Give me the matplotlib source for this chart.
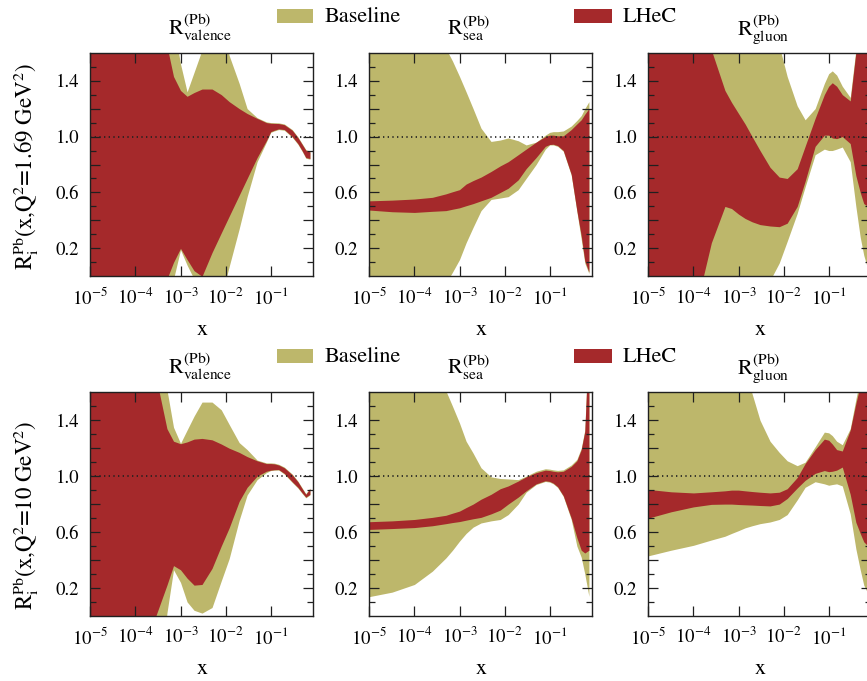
import matplotlib
matplotlib.use("Agg")
import matplotlib.pyplot as plt
from matplotlib import patches
from matplotlib.ticker import FixedLocator, NullLocator

plt.rcParams["font.family"] = "STIXGeneral"
plt.rcParams["mathtext.fontset"] = "stix"

# x nodes shared by every band
X_NODES = [1e-5, 3.2e-5, 1e-4, 2.5e-4, 5e-4, 7e-4, 1e-3, 1.4e-3, 2e-3, 3e-3,
           5e-3, 8e-3, 0.012, 0.02, 0.03, 0.05, 0.08, 0.1, 0.12, 0.15,
           0.2, 0.3, 0.4, 0.5, 0.6, 0.74]

# Q^2 = 1.69 GeV^2 (top row)
VAL_169_BASE_HI = [2.5, 2.5, 2.5, 2.5, 2.2, 1.8, 1.52, 1.32, 1.46, 1.62, 2.0, 1.85, 1.58,
                   1.38, 1.2, 1.135, 1.105, 1.10, 1.099, 1.098, 1.09, 1.05, 0.998, 0.948, 0.907, 0.895]
VAL_169_BASE_LO = [-0.5, -0.5, -0.5, -0.5, -0.3, -0.02, 0.19, 0.08, -0.02, -0.3, -0.3, -0.15, 0.07,
                   0.34, 0.57, 0.82, 0.96, 1.03, 1.04, 1.05, 1.045, 0.995, 0.945, 0.893, 0.845, 0.838]
VAL_169_LHEC_HI = [2.0, 2.0, 2.0, 2.0, 1.65, 1.43, 1.33, 1.288, 1.315, 1.34, 1.34, 1.30, 1.25,
                   1.20, 1.165, 1.13, 1.10, 1.095, 1.094, 1.093, 1.085, 1.045, 0.993, 0.943, 0.902, 0.89]
VAL_169_LHEC_LO = [-0.5, -0.5, -0.5, -0.5, -0.02, 0.10, 0.2, 0.12, 0.04, 0.0, 0.17, 0.31, 0.43,
                   0.58, 0.70, 0.85, 0.97, 1.035, 1.045, 1.055, 1.05, 1.0, 0.95, 0.898, 0.85, 0.843]

SEA_169_BASE_HI = [2.5, 2.2, 2.0, 1.8, 1.63, 1.54, 1.43, 1.32, 1.2, 1.06, 0.965, 0.975, 0.99,
                   0.97, 0.94, 0.96, 1.01, 1.03, 1.035, 1.035, 1.04, 1.075, 1.115, 1.15, 1.2, 1.25]
SEA_169_BASE_LO = [-1.0, -0.8, -0.6, -0.3, -0.05, 0.03, 0.12, 0.24, 0.35, 0.47, 0.55, 0.56, 0.57,
                   0.62, 0.7, 0.8, 0.91, 0.94, 0.94, 0.93, 0.895, 0.725, 0.465, 0.265, 0.095, 0.02]
SEA_169_LHEC_HI = [0.54, 0.545, 0.553, 0.565, 0.59, 0.605, 0.62, 0.66, 0.685, 0.71, 0.75, 0.79, 0.82,
                   0.87, 0.91, 0.96, 1.0, 1.01, 1.01, 1.005, 1.005, 1.05, 1.09, 1.12, 1.16, 1.2]
SEA_169_LHEC_LO = [0.474, 0.462, 0.457, 0.465, 0.47, 0.48, 0.49, 0.505, 0.52, 0.54, 0.565, 0.6, 0.63,
                   0.69, 0.77, 0.85, 0.93, 0.943, 0.945, 0.935, 0.9, 0.73, 0.47, 0.29, 0.11, 0.03]

GLU_169_BASE_HI = [3.0, 3.0, 3.0, 2.5, 2.2, 2.0, 1.9, 1.8, 1.75, 1.7, 1.66, 1.65, 1.43,
                   1.22, 1.12, 1.2, 1.38, 1.45, 1.47, 1.44, 1.36, 1.28, 1.62, 1.95, 2.3, 2.6]
GLU_169_BASE_LO = [-1.0, -1.0, -1.0, -0.8, -0.6, -0.5, -0.4, -0.3, -0.2, -0.1, -0.03, 0.095, 0.25,
                   0.45, 0.64, 0.87, 0.91, 0.9, 0.9, 0.91, 0.925, 0.82, 0.5, 0.28, 0.15, 0.05]
GLU_169_LHEC_HI = [2.0, 2.0, 2.0, 1.62, 1.33, 1.245, 1.165, 1.09, 1.0, 0.9, 0.78, 0.71, 0.70,
                   0.77, 0.93, 1.13, 1.3, 1.36, 1.385, 1.36, 1.3, 1.255, 1.6, 1.9, 2.2, 2.5]
GLU_169_LHEC_LO = [-1.0, -1.0, -0.3, 0.24, 0.5, 0.485, 0.445, 0.414, 0.39, 0.37, 0.36, 0.355, 0.38,
                   0.5, 0.68, 0.93, 1.01, 1.01, 0.99, 0.985, 1.0, 0.95, 0.72, 0.6, 0.52, 0.5]

# Q^2 = 10 GeV^2 (bottom row)
VAL_10_BASE_HI = [2.5, 2.5, 2.5, 2.5, 1.62, 1.35, 1.235, 1.33, 1.43, 1.53, 1.53, 1.475, 1.37,
                  1.24, 1.19, 1.115, 1.095, 1.095, 1.093, 1.085, 1.065, 1.015, 0.965, 0.915, 0.875, 0.915]
VAL_10_BASE_LO = [-1.0, -1.0, -1.0, -1.0, 0.02, 0.33, 0.24, 0.1, 0.04, 0.02, 0.06, 0.25, 0.41,
                  0.685, 0.865, 0.975, 1.025, 1.04, 1.043, 1.044, 1.015, 0.955, 0.915, 0.875, 0.845, 0.865]
VAL_10_LHEC_HI = [2.0, 2.0, 2.0, 1.8, 1.34, 1.25, 1.232, 1.245, 1.265, 1.27, 1.26, 1.23, 1.2,
                  1.17, 1.14, 1.11, 1.09, 1.09, 1.088, 1.08, 1.06, 1.01, 0.96, 0.91, 0.87, 0.91]
VAL_10_LHEC_LO = [-1.0, -1.0, -1.0, -0.05, 0.22, 0.36, 0.33, 0.27, 0.22, 0.225, 0.34, 0.50, 0.63,
                  0.82, 0.92, 1.0, 1.035, 1.043, 1.046, 1.047, 1.02, 0.96, 0.92, 0.88, 0.85, 0.87]

SEA_10_BASE_HI = [2.5, 2.2, 2.0, 1.8, 1.61, 1.5, 1.38, 1.25, 1.165, 1.06, 0.995, 0.983, 0.98,
                  0.975, 1.0, 1.035, 1.053, 1.05, 1.045, 1.041, 1.045, 1.08, 1.12, 1.2, 1.33, 2.05]
SEA_10_BASE_LO = [0.138, 0.17, 0.225, 0.32, 0.415, 0.47, 0.535, 0.59, 0.635, 0.665, 0.68, 0.69, 0.725,
                  0.8, 0.885, 0.94, 0.962, 0.957, 0.945, 0.919, 0.855, 0.69, 0.5, 0.42, 0.3, 0.14]
SEA_10_LHEC_HI = [0.674, 0.68, 0.69, 0.705, 0.72, 0.735, 0.75, 0.775, 0.8, 0.835, 0.87, 0.91, 0.93,
                  0.965, 0.995, 1.025, 1.043, 1.04, 1.035, 1.031, 1.035, 1.07, 1.11, 1.19, 1.32, 2.0]
SEA_10_LHEC_LO = [0.619, 0.625, 0.632, 0.645, 0.66, 0.668, 0.675, 0.685, 0.695, 0.705, 0.73, 0.757, 0.8,
                  0.85, 0.895, 0.945, 0.967, 0.962, 0.95, 0.924, 0.86, 0.7, 0.56, 0.47, 0.45, 0.47]

GLU_10_BASE_HI = [3.0, 3.0, 2.8, 2.5, 2.3, 2.2, 2.0, 1.75, 1.59, 1.4, 1.25, 1.17, 1.11,
                  1.075, 1.1, 1.21, 1.315, 1.31, 1.29, 1.25, 1.225, 1.34, 1.55, 1.7, 1.85, 2.1]
GLU_10_BASE_LO = [0.43, 0.47, 0.505, 0.543, 0.57, 0.59, 0.61, 0.63, 0.645, 0.66, 0.672, 0.69, 0.725,
                  0.83, 0.92, 0.96, 0.945, 0.935, 0.94, 0.945, 0.93, 0.73, 0.48, 0.33, 0.22, 0.16]
GLU_10_LHEC_HI = [0.905, 0.888, 0.88, 0.888, 0.895, 0.9, 0.9, 0.895, 0.89, 0.885, 0.88, 0.885, 0.91,
                  0.99, 1.09, 1.19, 1.265, 1.257, 1.23, 1.19, 1.18, 1.33, 1.52, 1.65, 1.8, 2.0]
GLU_10_LHEC_LO = [0.70, 0.745, 0.78, 0.798, 0.8, 0.8, 0.797, 0.795, 0.793, 0.79, 0.787, 0.8, 0.84,
                  0.915, 0.97, 1.02, 1.04, 1.032, 1.035, 1.043, 1.065, 0.87, 0.67, 0.59, 0.53, 0.5]

PARTONS = ["valence", "sea", "gluon"]
Q2_LABELS = ["1.69", "10"]
LEGEND_LABELS = ["Baseline", "LHeC"]

X_TICKS = [1e-5, 1e-4, 1e-3, 1e-2, 1e-1]
X_TICK_LABELS = [r"$10^{-5}$", r"$10^{-4}$", r"$10^{-3}$", r"$10^{-2}$", r"$10^{-1}$"]
Y_TICKS = [0.2, 0.4, 0.6, 0.8, 1.0, 1.2, 1.4]
Y_TICK_LABELS = ["0.2", "", "0.6", "", "1.0", "", "1.4"]
Y_MINOR = [0.1, 0.3, 0.5, 0.7, 0.9, 1.1, 1.3, 1.5]

OLIVE = "#bdb76b"
RED = "#a5292b"
BLACK = "#202020"

ROWS = [
    [(VAL_169_BASE_HI, VAL_169_BASE_LO, VAL_169_LHEC_HI, VAL_169_LHEC_LO),
     (SEA_169_BASE_HI, SEA_169_BASE_LO, SEA_169_LHEC_HI, SEA_169_LHEC_LO),
     (GLU_169_BASE_HI, GLU_169_BASE_LO, GLU_169_LHEC_HI, GLU_169_LHEC_LO)],
    [(VAL_10_BASE_HI, VAL_10_BASE_LO, VAL_10_LHEC_HI, VAL_10_LHEC_LO),
     (SEA_10_BASE_HI, SEA_10_BASE_LO, SEA_10_LHEC_HI, SEA_10_LHEC_LO),
     (GLU_10_BASE_HI, GLU_10_BASE_LO, GLU_10_LHEC_HI, GLU_10_LHEC_LO)],
]

W_PX, H_PX = 867, 681
fig = plt.figure(figsize=(W_PX / 100, H_PX / 100), dpi=100)
fig.set_facecolor("white")

# panel geometry in pixels (the third column runs past the right edge)
LEFTS = [90.3, 369.3, 648.3]
TOPS = [52.7, 392.3]
PANEL_W, PANEL_H = 223.0, 223.6
TITLE_X = [0.348, 0.35, 0.399]


def fx(px):
    return px / W_PX


def fy(py):
    return 1 - py / H_PX


for r, bands in enumerate(ROWS):
    top = TOPS[r]
    for c, (b_hi, b_lo, l_hi, l_lo) in enumerate(bands):
        ax = fig.add_axes([fx(LEFTS[c]), fy(top + PANEL_H), PANEL_W / W_PX, PANEL_H / H_PX])
        ax.fill_between(X_NODES, b_lo, b_hi, color=OLIVE, lw=0, zorder=1)
        ax.fill_between(X_NODES, l_lo, l_hi, color=RED, lw=0, zorder=1.5)
        ax.axhline(1.0, color=BLACK, lw=1.2, ls=(0, (0.8, 2.0)), zorder=3)

        ax.set_xscale("log")
        ax.set_xlim(1e-5, 0.88)
        ax.set_ylim(0, 1.6)

        ax.xaxis.set_major_locator(FixedLocator(X_TICKS))
        ax.xaxis.set_minor_locator(NullLocator())
        ax.set_xticklabels(X_TICK_LABELS)
        ax.yaxis.set_major_locator(FixedLocator(Y_TICKS))
        ax.yaxis.set_minor_locator(FixedLocator(Y_MINOR))
        ax.set_yticklabels(Y_TICK_LABELS)

        ax.tick_params(which="both", direction="in", top=True, right=True,
                       color=BLACK, width=0.9)
        ax.tick_params(which="major", length=7.5, labelsize=13.5, pad=8)
        ax.tick_params(which="minor", length=4.5)
        for s in ax.spines.values():
            s.set_linewidth(1.0)
            s.set_color(BLACK)

        ax.text(TITLE_X[c], 1.08,
                r"$\mathrm{R}^{(\mathrm{Pb})}_{\mathrm{%s}}$" % PARTONS[c],
                transform=ax.transAxes, ha="left", va="baseline", fontsize=16)
        ax.text(0.5, -0.262, "x", transform=ax.transAxes,
                ha="center", va="baseline", fontsize=16)

    # y label, bottom aligned just above the panel bottom
    fig.text(fx(26), fy(top + PANEL_H - 6),
             r"$\mathrm{R}_\mathrm{i}^\mathrm{Pb}$(x,Q$^2$=%s GeV$^2$)" % Q2_LABELS[r],
             rotation=90, ha="center", va="bottom", fontsize=16.5)

    # legend boxes above the panels
    for (x0, x1, tx), col, lab in zip([(276.7, 313.3, 325.0), (574.3, 611.7, 622.7)],
                                       [OLIVE, RED], LEGEND_LABELS):
        fig.add_artist(patches.Rectangle((fx(x0), fy(top - 29.7)), fx(x1) - fx(x0),
                                         14 / H_PX, transform=fig.transFigure,
                                         facecolor=col, edgecolor="none"))
        fig.text(fx(tx), fy(top - 30.4), lab, ha="left", va="baseline", fontsize=16)

fig.savefig("out.png", dpi=100)
